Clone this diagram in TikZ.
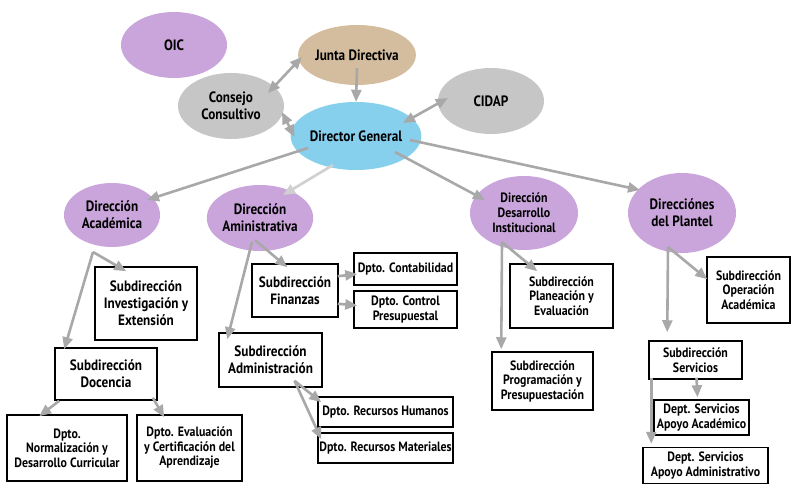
\documentclass[tikz,border=0pt]{standalone}
\usepackage{fontspec}
\setmainfont{PT Sans}[FakeStretch=0.88]
\usetikzlibrary{shapes.geometric,arrows.meta,calc}
\definecolor{purp}{HTML}{C9A5DB}
\definecolor{tan}{HTML}{D4BC9F}
\definecolor{gry}{HTML}{C6C6C6}
\definecolor{blu}{HTML}{86D0EE}
\definecolor{arrg}{HTML}{A8A8A8}
\definecolor{arrl}{HTML}{D0D0D0}
\begin{document}
\begin{tikzpicture}[x=1pt,y=-1pt,
  ell/.style={ellipse, inner sep=0pt, align=center, font=\bfseries\fontsize{15}{17}\selectfont},
  bx/.style={draw=black, line width=1.5pt, inner sep=0pt, align=center, font=\bfseries\fontsize{15}{17}\selectfont},
  dp/.style={bx, font=\bfseries\fontsize{13.5}{14.5}\selectfont},
  arr/.style={draw=arrg, line width=2.6pt, -{Triangle[length=12pt,width=10pt]}},
  darr/.style={draw=arrg, line width=2.6pt, {Triangle[length=12pt,width=10pt]}-{Triangle[length=12pt,width=10pt]}},
  larr/.style={draw=arrl, line width=2.6pt, -{Triangle[length=12pt,width=10pt]}}]
\useasboundingbox (0,0) rectangle (793,484);
% ellipses
\node[ell, fill=purp, minimum width=106, minimum height=66] (oic) at (174,45) {OIC};
\node[ell, fill=tan, minimum width=106, minimum height=60] (jd) at (357,55) {Junta Directiva};
\node[ell, fill=gry, minimum width=106, minimum height=66] (cc) at (231,106) {Consejo\\Consultivo};
\node[ell, fill=gry, minimum width=106, minimum height=66] (cidap) at (491,101) {CIDAP};
\node[ell, fill=blu, minimum width=104, minimum height=68] (dg) at (356,136) {Director General};
\node[ell, fill=purp, minimum width=96, minimum height=64] (acad) at (112,215) {Dirección\\Académica};
\node[ell, fill=purp, minimum width=106, minimum height=66] (adir) at (260,218) {Dirección\\Aministrativa};
\node[ell, fill=purp, minimum width=108, minimum height=74, font=\bfseries\fontsize{13.5}{15}\selectfont] (des) at (524,213) {Dirección\\Desarrollo\\Institucional};
\node[ell, fill=purp, minimum width=108, minimum height=80] (pla) at (682,213) {Direcciónes\\del Plantel};
% boxes
\node[bx, minimum width=102, minimum height=73] (inv) at (146,303.5) {Subdirección\\Investigación y\\Extensión};
\node[bx, minimum width=102, minimum height=52] (doc) at (106,374) {Subdirección\\Docencia};
\node[dp, minimum width=120, minimum height=66] (norm) at (67,448) {Dpto.\\Normalización y\\Desarrollo Curricular};
\node[dp, minimum width=105, minimum height=66] (eval) at (189.5,448) {Dpto. Evaluación\\y Certificación del\\Aprendizaje};
\node[bx, minimum width=86, minimum height=53] (fin) at (295,290.5) {Subdirección\\Finanzas};
\node[dp, minimum width=103, minimum height=32] (cont) at (405.5,269) {Dpto. Contabilidad};
\node[dp, minimum width=103, minimum height=37] (ctrl) at (405.5,309.5) {Dpto. Control\\Presupuestal};
\node[bx, minimum width=103, minimum height=54] (adm) at (270.5,360) {Subdirección\\Administración};
\node[dp, minimum width=135, minimum height=30] (rh) at (385.5,412) {Dpto. Recursos Humanos};
\node[dp, minimum width=135, minimum height=30] (rm) at (385.5,448) {Dpto. Recursos Materiales};
\node[dp, minimum width=103, minimum height=64] (plan) at (561.5,296) {Subdirección\\Planeación y\\Evaluación};
\node[dp, minimum width=101, minimum height=58] (prog) at (542.5,381) {Subdirección\\Programación y\\Presupuestación};
\node[dp, minimum width=83, minimum height=66] (oper) at (748.5,290) {Subdirección\\Operación\\Académica};
\node[dp, minimum width=93, minimum height=38] (serv) at (695.5,360) {Subdirección\\Servicios};
\node[dp, minimum width=95, minimum height=35] (aac) at (701.5,417.5) {Dept. Servicios\\Apoyo Académico};
\node[dp, minimum width=125, minimum height=36] (aad) at (705.5,465.5) {Dept. Servicios\\Apoyo Administrativo};
% connectors
\draw[darr] ($(jd.west)+(4,2)$) -- ($(cc)+(37,-13)$);
\draw[arr] ($(jd)+(0,13)$) -- (dg.north);
\draw[darr] ($(cc)+(51,6)$) -- ($(dg.west)+(4,1)$);
\draw[darr] ($(cidap.west)+(10,-3)$) -- ($(dg)+(47,-13)$);
\draw[arr] ($(dg)+(-48,12)$) -- ($(acad)+(35,-15)$);
\draw[larr] ($(dg)+(-23,29)$) -- ($(adir)+(23,-23)$);
\draw[arr] ($(dg)+(39,16)$) -- ($(des)+(-39,-13)$);
\draw[arr] ($(dg)+(54,4)$) -- ($(pla)+(-42,-23)$);
\draw[arr] ($(acad)+(-19,37)$) -- ($(inv.north west)+(32,5)$);
\draw[arr] ($(acad)+(-19,37)$) -- ($(doc.north west)+(10,2)$);
\draw[arr] ($(doc.south west)+(5,0)$) -- ($(norm.north west)+(33,2)$);
\draw[arr] ($(doc.south east)+(-5,-3)$) -- ($(eval.north west)+(28,3)$);
\draw[arr] ($(adir)+(-5,22)$) -- ($(fin.north west)+(36,4)$);
\draw[arr] ($(adir)+(-8,24)$) -- ($(adm.north west)+(9,7)$);
\draw[arr] ($(fin.north east)+(-1,13)$) -- ($(cont.west)+(4,5)$);
\draw[arr] ($(fin.south east)+(-1,-14)$) -- ($(ctrl.west)+(4,-4)$);
\draw[arr] ($(adm.south)+(24,-7)$) -- ($(rh.north west)+(4,6)$);
\draw[arr] ($(adm.south)+(24,-7)$) -- ($(rm.north west)+(4,7)$);
\draw[arr] ($(des)+(-22,29)$) -- ($(plan.north west)+(28,8)$);
\draw[arr] ($(des)+(-22,29)$) -- ($(prog.north west)+(10,-2)$);
\draw[arr] ($(pla)+(-14,34)$) -- ($(oper.north west)+(1,23)$);
\draw[arr] ($(pla)+(-14,34)$) -- ($(serv.north west)+(19,-8)$);
\draw[arr] ($(serv.south)+(1,-2)$) -- ($(aac.north)+(-4,-2)$);
\draw[arr] ($(serv.south west)+(3,-2)$) -- ($(aad.north west)+(9,-3)$);
\end{tikzpicture}
\end{document}
